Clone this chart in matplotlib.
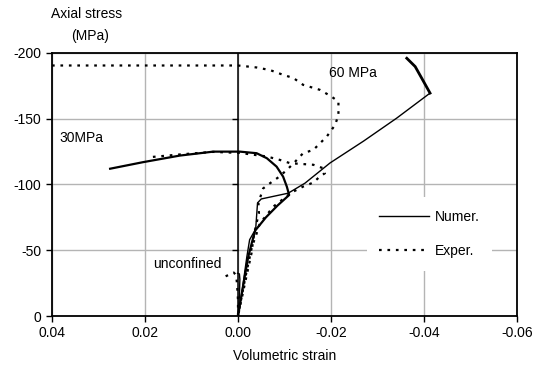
import matplotlib
matplotlib.use("Agg")
import matplotlib.pyplot as plt
from matplotlib.lines import Line2D

plt.rcParams['font.family'] = ['Liberation Sans', 'DejaVu Sans']

# ---- data (volumetric strain, axial stress MPa) ----
num_unconf_x = [0, -0.0003, -0.0004, -0.0003, 0.0001]
num_unconf_y = [0, -15, -28, -32, -32.5]

exp_unconf_x = [0, 0, 0.0002, 0.0004, 0.0009, 0.0015, 0.0028]
exp_unconf_y = [0, -12, -24, -31, -33, -32, -30]

num_30_x = [0, -0.0012, -0.0022, -0.0030, -0.0037, -0.0060, -0.0085, -0.0110, -0.0105,
            -0.0097, -0.0083, -0.0062, -0.0040, -0.0004, 0.0053, 0.0125, 0.0204, 0.0275]
num_30_y = [0, -25, -45, -56, -65, -75, -84, -92, -98.4,
            -106, -113.6, -120, -123.8, -125, -125, -122, -117, -112]

num_60_x = [0, -0.0010, -0.0019, -0.0025, -0.0033, -0.0038, -0.0040, -0.0042, -0.0050,
            -0.0108, -0.0144, -0.0198, -0.0270, -0.0341, -0.0413]
num_60_y = [0, -22, -45, -58, -63, -66, -76, -86, -89,
            -93.4, -101, -116.4, -133, -150.4, -169.5]

num_60_unload_x = [-0.0413, -0.0395, -0.0381, -0.0363]
num_60_unload_y = [-169.5, -180.9, -189.7, -196]

exp_30_x = [0.0183, 0.012, 0.0054, -0.0004, -0.0062, -0.0090, -0.0112, -0.0162, -0.0183,
            -0.0187, -0.0176, -0.0162, -0.0140, -0.0119, -0.0108, -0.0090, -0.0076,
            -0.0062, -0.0047, -0.0039, -0.0030, -0.0015, 0]
exp_30_y = [-121, -123, -124.8, -124, -121.3, -118.7, -116.2, -115, -112.4,
            -108.6, -106, -101.5, -98.4, -94.6, -92, -87, -83.2,
            -76.9, -70.5, -61.6, -52.7, -28, 0]

exp_60_x = [0.040, 0.000, -0.0040, -0.0069, -0.0097, -0.0119, -0.0140, -0.0176, -0.0201,
            -0.0216, -0.0216, -0.0209, -0.0191, -0.0162, -0.0140, -0.0123, -0.0105,
            -0.0085, -0.0069, -0.0054, -0.0044, -0.0045, -0.0038, -0.0033, -0.0029,
            -0.0015, 0]
exp_60_y = [-190.5, -190.5, -189, -187, -183.4, -181, -175.8, -172, -166.9,
            -163, -153, -145.4, -136.5, -126.3, -123.8, -117.4, -111,
            -105, -101, -97, -86, -78, -68, -59, -47.7,
            -25, 0]

x_ticks = [0.04, 0.02, 0.00, -0.02, -0.04, -0.06]
x_tick_labels = ["0.04", "0.02", "0.00", "-0.02", "-0.04", "-0.06"]
y_ticks = [0, -50, -100, -150, -200]
y_tick_labels = ["0", "-50", "-100", "-150", "-200"]

# ---- figure ----
W, H = 539, 367
fig = plt.figure(figsize=(W / 100, H / 100), dpi=100)
ax = fig.add_axes([52 / W, 1 - 316 / H, (517 - 52) / W, (316 - 53) / H])

ax.set_xlim(0.04, -0.06)
ax.set_ylim(0, -200)
ax.set_xticks(x_ticks)
ax.set_xticklabels(x_tick_labels)
ax.set_yticks(y_ticks)
ax.set_yticklabels(y_tick_labels)
ax.tick_params(direction='out', length=4, width=1, labelsize=10, colors='black')
ax.grid(True, color='#b4b4b4', lw=1)
ax.set_axisbelow(True)
for s in ax.spines.values():
    s.set_linewidth(1.3)
    s.set_color('black')

ax.axvline(0, color='black', lw=1.1, zorder=1.5)
for yt in y_ticks[1:4]:
    ax.plot([0], [yt], marker=0, color='black', ms=4, mew=1, zorder=1.6)

dot = (0, (1.2, 2.6))
ax.plot(num_unconf_x, num_unconf_y, color='black', lw=1.0)
ax.plot(exp_unconf_x, exp_unconf_y, color='black', lw=1.6, ls=dot)
ax.plot(num_30_x, num_30_y, color='black', lw=1.6)
ax.plot(num_60_x, num_60_y, color='black', lw=1.0)
ax.plot(num_60_unload_x, num_60_unload_y, color='black', lw=2.0)
ax.plot(exp_30_x, exp_30_y, color='black', lw=1.6, ls=dot)
ax.plot(exp_60_x, exp_60_y, color='black', lw=1.6, ls=dot)

ax.text(-0.0196, -185, "60 MPa", fontsize=10, va='center', ha='left')
ax.text(0.0383, -135.5, "30MPa", fontsize=10, va='center', ha='left')
ax.text(0.0183, -39.5, "unconfined", fontsize=10, va='center', ha='left')

handles = [Line2D([], [], color='black', lw=1.0),
           Line2D([], [], color='black', lw=1.6, ls=dot)]
leg = ax.legend(handles, ["Numer.", "Exper."], loc='center left',
                bbox_to_anchor=((360 - 52) / (517 - 52), (316 - 234) / (316 - 53)),
                frameon=True, fontsize=10, handlelength=3.6, handletextpad=0.4,
                labelspacing=1.45, borderpad=0.9, fancybox=False)
leg.get_frame().set_edgecolor('none')
leg.get_frame().set_facecolor('white')
leg.get_frame().set_alpha(1)

ax.set_xlabel("Volumetric strain", fontsize=10, labelpad=6)
fig.text(87 / W, 1 - 14 / H, "Axial stress", fontsize=10, ha='center', va='center')
fig.text(90 / W, 1 - 36 / H, "(MPa)", fontsize=10, ha='center', va='center')

fig.savefig("out.png", dpi=100)
